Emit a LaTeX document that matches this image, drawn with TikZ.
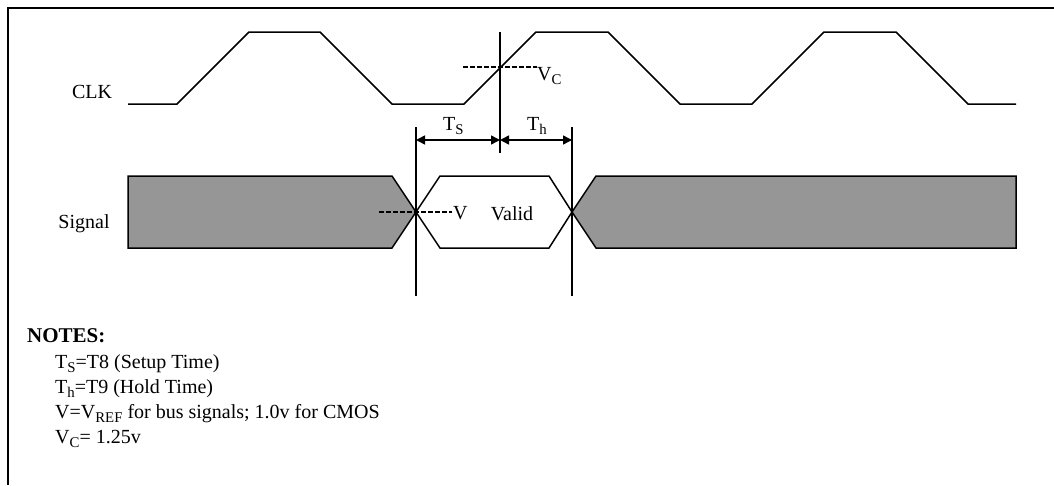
\documentclass[tikz,border=0pt]{standalone}
\usepackage{fontspec}
\usepackage{graphicx}
\setmainfont{Liberation Serif}
\usetikzlibrary{arrows.meta}
\newcommand\lsub[1]{\raisebox{-0.5ex}{\scalebox{0.74}{#1}}}
\begin{document}
\begin{tikzpicture}[x=1pt,y=-1pt,
  wave/.style={line width=1.5pt, line join=miter},
  bus/.style={line width=1.5pt, fill=busgrey, line join=miter},
  marker/.style={line width=1.5pt},
  dim/.style={line width=1.5pt, {Triangle[length=9pt,width=9pt]}-{Triangle[length=9pt,width=9pt]}},
  thr/.style={line width=1.3pt, dash pattern=on 4.5pt off 2.5pt},
  lbl/.style={inner sep=0pt, font=\fontsize{20}{24}\selectfont},
  note/.style={inner sep=0pt, anchor=base west, font=\fontsize{20}{24}\selectfont}]
\definecolor{busgrey}{HTML}{969696}
\useasboundingbox (0,0) rectangle (1054,485);
% frame
\draw[line width=1.6pt] (1054,8) -- (8,8) -- (8,485);
% CLK
\draw[wave] (128,104) -- (177,104) -- (249,32) -- (320,32) -- (392,104) -- (464,104)
  -- (536,32) -- (608,32) -- (680,104) -- (752,104) -- (824,32) -- (896,32) -- (968,104) -- (1016,104);
% Signal
\draw[bus] (128,176) -- (392,176) -- (416,212) -- (392,248) -- (128,248) -- cycle;
\draw[bus] (572,212) -- (596,176) -- (1016,176) -- (1016,248) -- (596,248) -- cycle;
\draw[wave] (416,212) -- (440,176) -- (549,176) -- (572,212) -- (549,248) -- (440,248) -- cycle;
% markers
\coordinate (s1) at (416,127); \coordinate (s2) at (416,296);
\coordinate (h1) at (572,127); \coordinate (h2) at (572,296);
\coordinate (c1) at (500,32);  \coordinate (c2) at (500,153);
\draw[marker] (s1) -- (s2);
\draw[marker] (h1) -- (h2);
\draw[marker] (c1) -- (c2);
\coordinate (as) at (416,140); \coordinate (ac) at (500,140); \coordinate (ah) at (572,140);
\draw[dim] (as) -- (ac);
\draw[dim] (ac) -- (ah);
% thresholds
\coordinate (vc1) at (463,67); \coordinate (vc2) at (537,67);
\draw[thr] (vc1) -- (vc2);
\coordinate (v1) at (379,212); \coordinate (v2) at (452,212);
\draw[thr] (v1) -- (v2);
% labels
\node[lbl, anchor=base] (clk) at (92,98) {CLK};
\node[lbl, anchor=base] (sig) at (84,228) {Signal};
\node[lbl, anchor=base west] (vc) at (537,80) {V\lsub{C}};
\node[lbl, anchor=base west] (tsl) at (443,130) {T\lsub{S}};
\node[lbl, anchor=base west] (thl) at (527,130) {T\lsub{h}};
\node[lbl, anchor=base west] (vl) at (453,219) {V};
\node[lbl, anchor=base] (valid) at (512,220) {Valid};
% notes
\node[note, font=\fontsize{21}{24}\selectfont\bfseries] (notes) at (27,342) {NOTES:};
\node[note] (n1) at (55,368) {T\lsub{S}=T8 (Setup Time)};
\node[note] (n2) at (55,393) {T\lsub{h}=T9 (Hold Time)};
\node[note] (n3) at (55,418) {V=V\lsub{REF} for bus signals; 1.0v for CMOS};
\node[note] (n4) at (55,443) {V\lsub{C}= 1.25v};
\end{tikzpicture}
\end{document}
